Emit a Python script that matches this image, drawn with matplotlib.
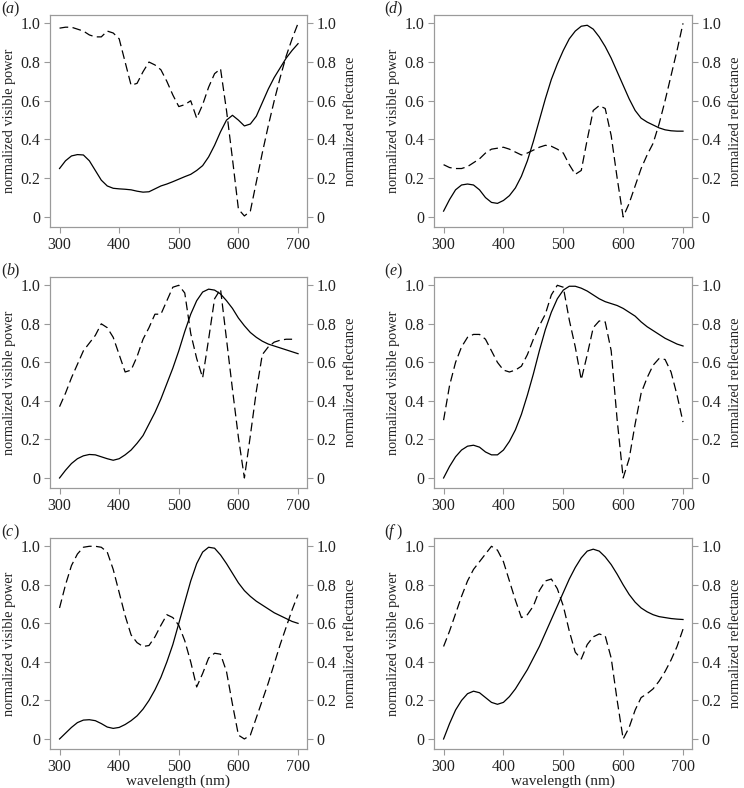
import matplotlib
matplotlib.use("Agg")
import matplotlib.pyplot as plt
import numpy as np

plt.rcParams['font.family'] = ['Liberation Serif', 'DejaVu Serif']
plt.rcParams['font.size'] = 10

# wavelength grid (nm) that the values were read on
wl = [300, 310, 320, 330, 340, 350, 360, 370, 380, 390, 400, 410, 420, 430,
      440, 450, 460, 470, 480, 490, 500, 510, 520, 530, 540, 550, 560, 570,
      580, 590, 600, 610, 620, 630, 640, 650, 660, 670, 680, 690, 700]

# visible power (solid) and reflectance (dashed) for each panel
power_a = [0.25, 0.29, 0.315, 0.322, 0.32, 0.29, 0.24, 0.19, 0.16, 0.148, 0.145,
           0.143, 0.14, 0.133, 0.128, 0.13, 0.145, 0.16, 0.17, 0.182, 0.195, 0.208,
           0.22, 0.24, 0.265, 0.31, 0.37, 0.44, 0.50, 0.525, 0.50, 0.47, 0.48, 0.52,
           0.59, 0.66, 0.72, 0.77, 0.82, 0.86, 0.895]
refl_a = [0.975, 0.98, 0.98, 0.97, 0.96, 0.94, 0.93, 0.93, 0.96, 0.95, 0.92, 0.80,
          0.68, 0.69, 0.75, 0.80, 0.785, 0.76, 0.70, 0.63, 0.57, 0.58, 0.60, 0.51,
          0.58, 0.67, 0.74, 0.765, 0.55, 0.30, 0.04, 0.005, 0.03, 0.18, 0.33, 0.47,
          0.60, 0.72, 0.83, 0.92, 1.0]

power_b = [0.0, 0.04, 0.075, 0.10, 0.115, 0.122, 0.12, 0.11, 0.10, 0.092, 0.10,
           0.12, 0.145, 0.18, 0.22, 0.28, 0.34, 0.41, 0.49, 0.57, 0.66, 0.76, 0.85,
           0.92, 0.965, 0.98, 0.975, 0.955, 0.92, 0.88, 0.83, 0.79, 0.755, 0.73,
           0.71, 0.695, 0.685, 0.675, 0.665, 0.655, 0.645]
wl_refl_b = wl[:-1]
refl_b = [0.37, 0.44, 0.52, 0.59, 0.66, 0.70, 0.74, 0.80, 0.78, 0.73, 0.64, 0.55,
          0.56, 0.63, 0.72, 0.78, 0.85, 0.85, 0.92, 0.99, 1.0, 0.96, 0.75, 0.62,
          0.52, 0.72, 0.93, 0.98, 0.72, 0.46, 0.21, 0.0, 0.22, 0.45, 0.64, 0.68,
          0.705, 0.715, 0.72, 0.72]

power_c = [0.0, 0.03, 0.06, 0.085, 0.098, 0.10, 0.095, 0.08, 0.062, 0.055, 0.06,
           0.075, 0.095, 0.12, 0.155, 0.20, 0.255, 0.32, 0.40, 0.49, 0.60, 0.71,
           0.82, 0.91, 0.97, 0.995, 0.99, 0.955, 0.91, 0.86, 0.81, 0.77, 0.74,
           0.715, 0.695, 0.675, 0.655, 0.64, 0.625, 0.61, 0.60]
refl_c = [0.68, 0.80, 0.90, 0.96, 0.995, 1.0, 1.0, 0.995, 0.97, 0.88, 0.76, 0.64,
          0.54, 0.50, 0.48, 0.485, 0.53, 0.59, 0.645, 0.63, 0.59, 0.51, 0.40, 0.27,
          0.34, 0.42, 0.445, 0.44, 0.35, 0.18, 0.02, 0.0, 0.02, 0.11, 0.20, 0.29,
          0.39, 0.49, 0.58, 0.67, 0.75]

power_d = [0.03, 0.09, 0.14, 0.165, 0.17, 0.165, 0.14, 0.10, 0.075, 0.07, 0.085,
           0.11, 0.15, 0.21, 0.29, 0.39, 0.50, 0.61, 0.71, 0.79, 0.86, 0.92, 0.96,
           0.985, 0.99, 0.97, 0.93, 0.88, 0.82, 0.75, 0.68, 0.61, 0.55, 0.51, 0.49,
           0.475, 0.46, 0.45, 0.445, 0.443, 0.443]
refl_d = [0.27, 0.255, 0.25, 0.25, 0.26, 0.28, 0.30, 0.33, 0.35, 0.355, 0.36,
          0.35, 0.335, 0.32, 0.33, 0.345, 0.36, 0.37, 0.365, 0.35, 0.33, 0.27,
          0.22, 0.24, 0.40, 0.55, 0.575, 0.56, 0.42, 0.20, 0.0, 0.07, 0.16, 0.25,
          0.32, 0.38, 0.48, 0.60, 0.73, 0.86, 1.0]

power_e = [0.0, 0.06, 0.11, 0.145, 0.165, 0.17, 0.16, 0.135, 0.12, 0.12, 0.145,
           0.19, 0.25, 0.33, 0.43, 0.54, 0.66, 0.77, 0.86, 0.93, 0.975, 0.995,
           0.995, 0.985, 0.97, 0.95, 0.93, 0.915, 0.905, 0.895, 0.88, 0.86, 0.84,
           0.81, 0.785, 0.765, 0.745, 0.725, 0.71, 0.695, 0.685]
refl_e = [0.30, 0.48, 0.60, 0.68, 0.73, 0.745, 0.745, 0.72, 0.66, 0.60, 0.56,
          0.55, 0.56, 0.58, 0.64, 0.72, 0.79, 0.85, 0.95, 1.0, 0.99, 0.82, 0.68,
          0.51, 0.64, 0.78, 0.815, 0.81, 0.66, 0.30, 0.0, 0.10, 0.28, 0.44, 0.52,
          0.585, 0.62, 0.615, 0.55, 0.43, 0.29]

power_f = [0.0, 0.08, 0.15, 0.20, 0.235, 0.248, 0.24, 0.215, 0.19, 0.18, 0.19,
           0.22, 0.26, 0.31, 0.36, 0.42, 0.48, 0.55, 0.62, 0.69, 0.76, 0.83, 0.89,
           0.94, 0.975, 0.985, 0.975, 0.945, 0.905, 0.855, 0.80, 0.75, 0.71, 0.68,
           0.66, 0.645, 0.635, 0.63, 0.625, 0.622, 0.62]
refl_f = [0.48, 0.56, 0.65, 0.74, 0.82, 0.88, 0.92, 0.96, 1.0, 0.98, 0.92, 0.82,
          0.72, 0.63, 0.645, 0.69, 0.77, 0.82, 0.83, 0.78, 0.69, 0.56, 0.45, 0.415,
          0.49, 0.53, 0.545, 0.535, 0.42, 0.20, 0.0, 0.06, 0.15, 0.215, 0.235,
          0.26, 0.30, 0.35, 0.41, 0.48, 0.57]

panels = [
    ('a', power_a, wl, refl_a),
    ('b', power_b, wl_refl_b, refl_b),
    ('c', power_c, wl, refl_c),
    ('d', power_d, wl, refl_d),
    ('e', power_e, wl, refl_e),
    ('f', power_f, wl, refl_f),
]

W, H = 744, 788
fig = plt.figure(figsize=(W / 100, H / 100), dpi=100)

# pixel boxes: left, right, top, bottom
lefts = [(50, 307), (434, 692)]
rows = [(15, 227), (277, 488), (538, 749)]
gray = '#9a9a9a'
txt = '#222222'

for i, (tag, pw, wl_r, rf) in enumerate(panels):
    col, row = divmod(i, 3)
    l, r = lefts[col]
    t, b = rows[row]
    ax = fig.add_axes([l / W, 1 - b / H, (r - l) / W, (b - t) / H])
    ax2 = ax.twinx()
    ax.plot(wl, pw, color='black', lw=0.9)
    ax2.plot(wl_r, rf, color='black', lw=0.9, linestyle=(0, (7, 3.5)))
    for a in (ax, ax2):
        a.set_xlim(284, 715)
        a.set_ylim(-0.052, 1.043)
        a.set_yticks([0, 0.2, 0.4, 0.6, 0.8, 1.0])
        a.set_yticklabels(['0', '0.2', '0.4', '0.6', '0.8', '1.0'])
        a.set_xticks([300, 400, 500, 600, 700])
        a.tick_params(direction='out', length=4, width=0.8, color=gray,
                      labelcolor=txt, labelsize=11.5, pad=3)
        for s in a.spines.values():
            s.set_color(gray)
            s.set_linewidth(0.8)
    ax.set_ylabel('normalized visible power', fontsize=10.3, color=txt, labelpad=3)
    ax2.set_ylabel('normalized reflectance', fontsize=10.3, color=txt, labelpad=5)
    if row == 2:
        ax.set_xlabel('wavelength (nm)', fontsize=11, color=txt, labelpad=0)

    # panel letter: "(x)" with italic letter
    lx = 1 if col == 0 else 384
    ly = t - 14 if row > 0 else 1
    fy = 1 - ly / H
    fig.text(lx / W, fy, '(', fontsize=11.5, color=txt, va='top')
    fig.text((lx + 5) / W, fy, tag, fontsize=11.5, color=txt, va='top',
             style='italic')
    fig.text((lx + 12) / W, fy, ')', fontsize=11.5, color=txt, va='top')

fig.savefig('out.png', dpi=100)
